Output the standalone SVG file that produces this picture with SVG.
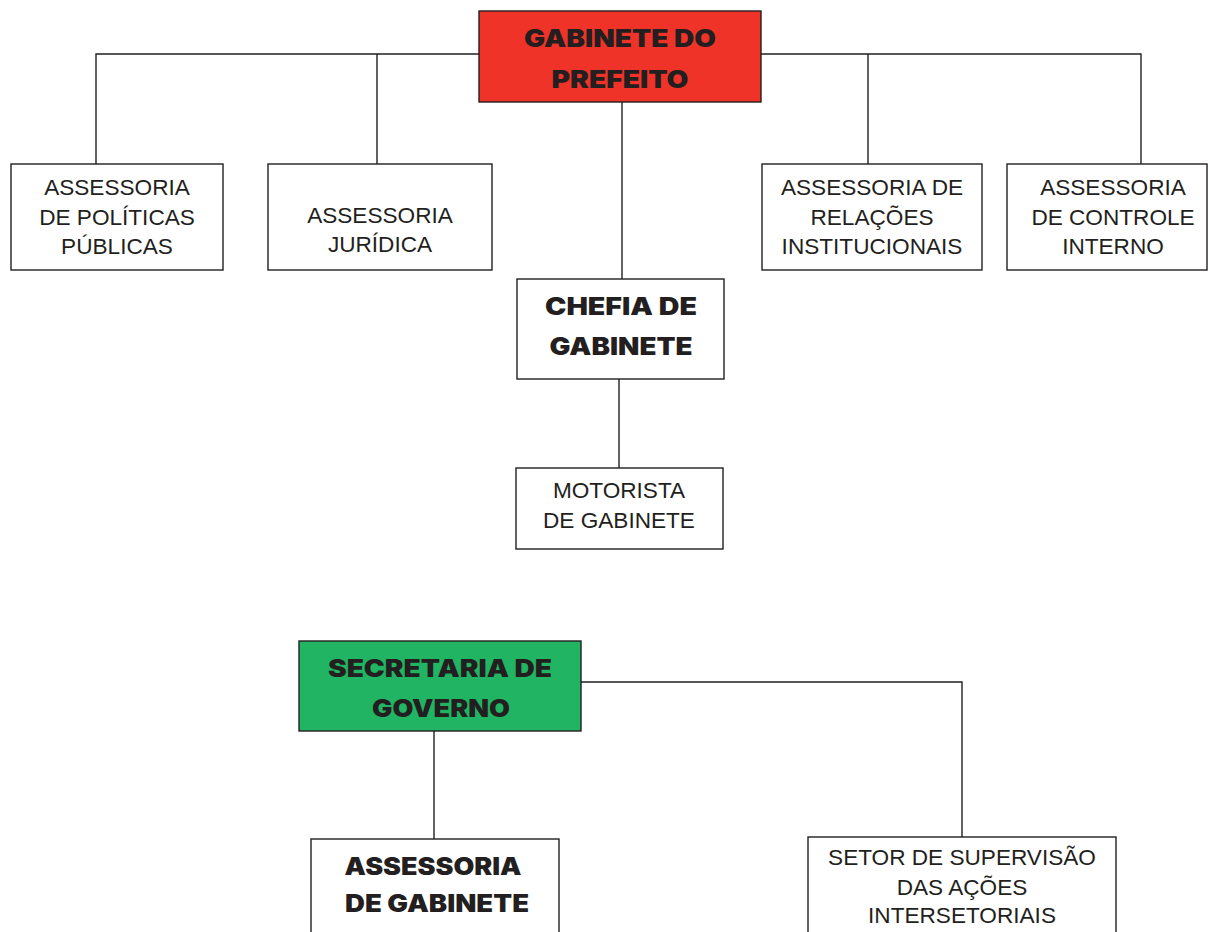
<svg xmlns="http://www.w3.org/2000/svg" width="1208" height="932" viewBox="0 0 1208 932">
<style>
.box{fill:#fff;stroke:#231f20;stroke-width:1.4}
.red{fill:#ef3329;stroke:#231f20;stroke-width:1.4}
.green{fill:#21b463;stroke:#231f20;stroke-width:1.4}
.t{font-family:"Liberation Sans",Arial,sans-serif;font-size:22.6px;fill:#231f20;text-anchor:middle}
.b{font-family:Inter,"DejaVu Sans",sans-serif;font-weight:900;font-size:24px;fill:#231f20;text-anchor:middle}
.c{fill:none;stroke:#231f20;stroke-width:1.4}
</style>
<rect width="1208" height="932" fill="#fff"/>
<g id="connectors">
<path class="c" d="M96,164 V54 H479 M377,54 V164 M761,54 H1141 V164 M868,54 V164"/>
<path class="c" d="M622,102 V279"/>
<path class="c" d="M619,379 V468"/>
<path class="c" d="M581,682 H962 V837"/>
<path class="c" d="M434,731 V839"/>
</g>
<g id="gabinete-prefeito">
<rect class="red" x="479" y="11" width="282" height="91"/>
<text class="b" x="620" y="47" textLength="192" lengthAdjust="spacingAndGlyphs">GABINETE DO</text>
<text class="b" x="620" y="88" textLength="137" lengthAdjust="spacingAndGlyphs">PREFEITO</text>
</g>
<g id="assessoria-politicas">
<rect class="box" x="11" y="164" width="212" height="106"/>
<text class="t" x="117" y="195">ASSESSORIA</text>
<text class="t" x="117" y="225">DE POLÍTICAS</text>
<text class="t" x="117" y="254">PÚBLICAS</text>
</g>
<g id="assessoria-juridica">
<rect class="box" x="268" y="164" width="224" height="106"/>
<text class="t" x="380" y="223">ASSESSORIA</text>
<text class="t" x="380" y="252">JURÍDICA</text>
</g>
<g id="assessoria-relacoes">
<rect class="box" x="762" y="164" width="220" height="106"/>
<text class="t" x="872" y="195">ASSESSORIA DE</text>
<text class="t" x="872" y="225">RELAÇÕES</text>
<text class="t" x="872" y="254">INSTITUCIONAIS</text>
</g>
<g id="assessoria-controle">
<rect class="box" x="1007" y="164" width="200" height="106"/>
<text class="t" x="1113" y="195">ASSESSORIA</text>
<text class="t" x="1113" y="225">DE CONTROLE</text>
<text class="t" x="1113" y="254">INTERNO</text>
</g>
<g id="chefia-gabinete">
<rect class="box" x="517" y="279" width="207" height="100"/>
<text class="b" x="621" y="315" textLength="152" lengthAdjust="spacingAndGlyphs">CHEFIA DE</text>
<text class="b" x="621" y="355" textLength="143" lengthAdjust="spacingAndGlyphs">GABINETE</text>
</g>
<g id="motorista">
<rect class="box" x="516" y="468" width="207" height="81"/>
<text class="t" x="619" y="498">MOTORISTA</text>
<text class="t" x="619" y="528">DE GABINETE</text>
</g>
<g id="secretaria-governo">
<rect class="green" x="299" y="641" width="282" height="90"/>
<text class="b" x="440" y="677" textLength="224" lengthAdjust="spacingAndGlyphs">SECRETARIA DE</text>
<text class="b" x="441" y="717" textLength="138" lengthAdjust="spacingAndGlyphs">GOVERNO</text>
</g>
<g id="assessoria-gabinete">
<rect class="box" x="311" y="839" width="248" height="110"/>
<text class="b" x="433" y="875" textLength="177" lengthAdjust="spacingAndGlyphs">ASSESSORIA</text>
<text class="b" x="437" y="912" textLength="184" lengthAdjust="spacingAndGlyphs">DE GABINETE</text>
</g>
<g id="setor-supervisao">
<rect class="box" x="808" y="837" width="308" height="110"/>
<text class="t" x="962" y="865">SETOR DE SUPERVISÃO</text>
<text class="t" x="962" y="895">DAS AÇÕES</text>
<text class="t" x="962" y="923">INTERSETORIAIS</text>
</g>
</svg>
